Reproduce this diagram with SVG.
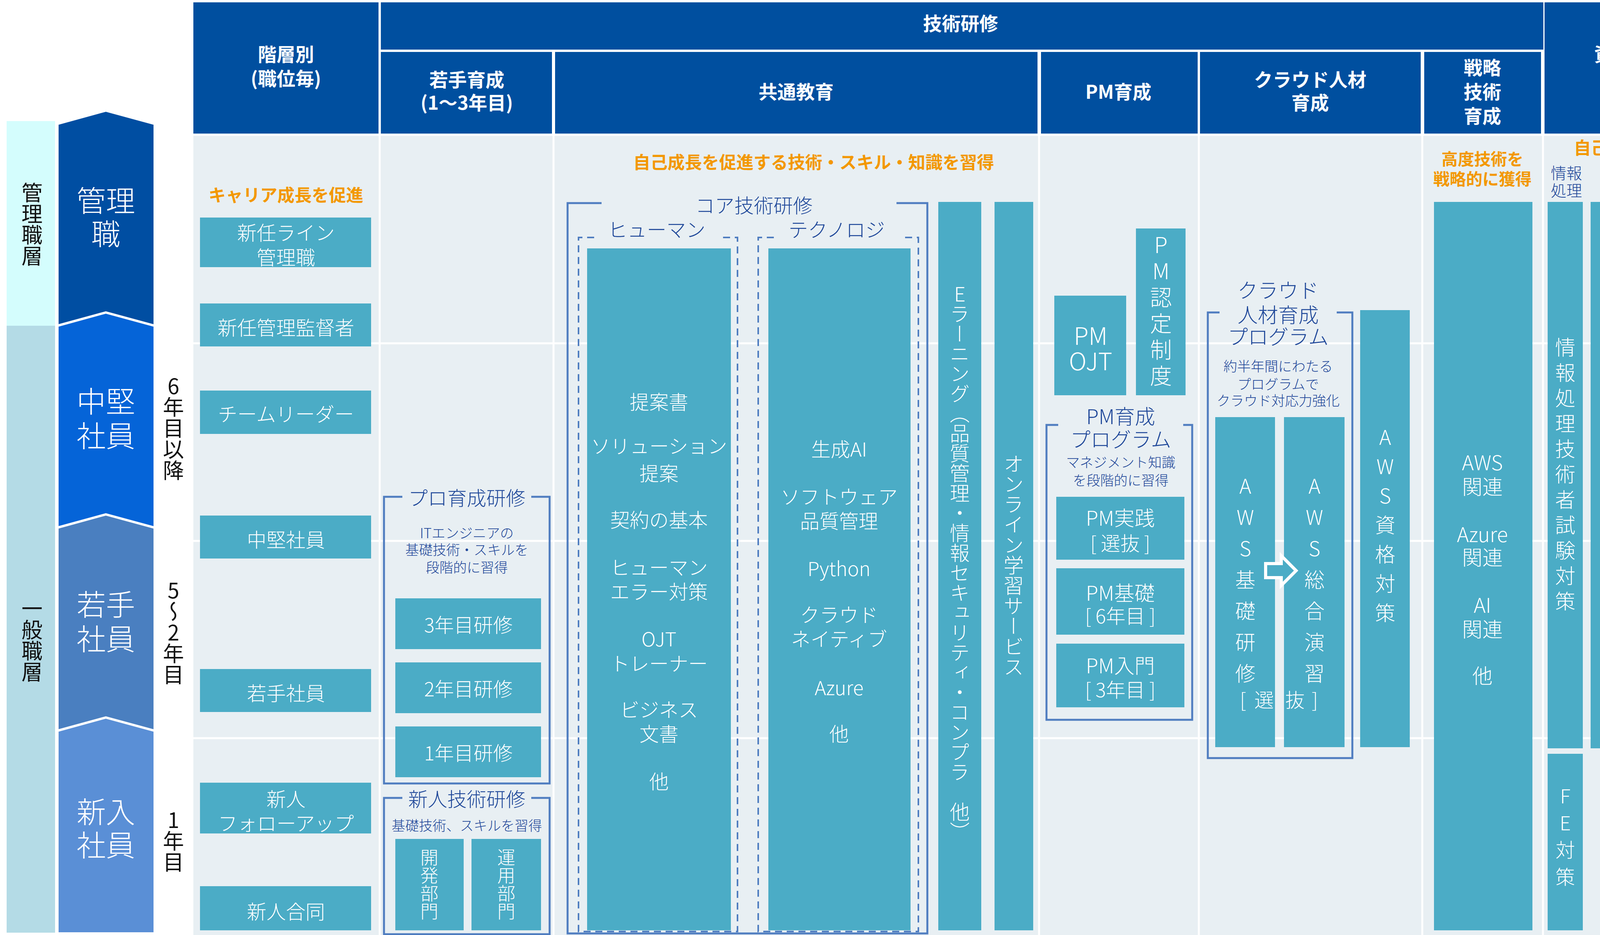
<svg xmlns="http://www.w3.org/2000/svg" width="4409" height="2394" viewBox="0 0 4409 2394">
<style>
text{font-family:"Noto Sans CJK JP","Noto Sans",sans-serif;dominant-baseline:central;text-anchor:middle}
.hd{fill:#fff;font-weight:700;font-size:48px}
.hdb{fill:#004f9f}
.tl{fill:#4bacc6}
.w{fill:#fff;font-size:50px;font-weight:300}
.or{fill:#f39800;font-weight:700;font-size:44px}
.db{fill:#1e4799;font-size:50px;font-weight:300}
.sm{fill:#1e4799;font-size:35px;font-weight:300}
.big{fill:#fff;font-size:75px;font-weight:300}
.v{writing-mode:vertical-rl;text-orientation:upright}
.br{fill:none;stroke:#4f7dc0;stroke-width:5}
.dash{fill:none;stroke:#4f7dc0;stroke-width:4;stroke-dasharray:18 12}
.sep{stroke:#fff;stroke-width:5}
</style>
<rect width="4409" height="2394" fill="#fff"/>
<!-- left bands -->
<g id="bands">
<rect x="17" y="310" width="124" height="524" fill="#d4fdfd"/>
<rect x="17" y="834" width="124" height="1554" fill="#b4dbe6"/>
<text x="82" y="574" class="v" style="font-size:54px;fill:#111">管理職層</text>
<text x="82" y="1639" class="v" style="font-size:54px;fill:#111">一般職層</text>
</g>
<g id="arrows" stroke="#fff" stroke-width="6">
<polygon points="147,317 271,283 396,317 396,840 147,840" fill="#004ea2"/>
<polygon points="147,834 271,800 396,834 396,1357 147,1357" fill="#0564d8"/>
<polygon points="147,1351 271,1317 396,1351 396,1875 147,1875" fill="#4a7fc0"/>
<polygon points="147,1871 271,1837 396,1871 396,2390 147,2390" fill="#5a8fd6"/>
</g>
<g id="arrowlabels">
<text x="271" y="509" class="big">管理</text><text x="271" y="594" class="big">職</text>
<text x="271" y="1023" class="big">中堅</text><text x="271" y="1111" class="big">社員</text>
<text x="271" y="1543" class="big">若手</text><text x="271" y="1631" class="big">社員</text>
<text x="271" y="2074" class="big">新入</text><text x="271" y="2159" class="big">社員</text>
<text x="444" y="1096" class="v" style="font-size:54px;fill:#111">6年目以降</text>
<text x="444" y="1619" class="v" style="font-size:54px;fill:#111">5〜2年目</text>
<text x="444" y="2153" class="v" style="font-size:54px;fill:#111">1年目</text>
</g>
<!-- body background -->
<g id="body">
<rect x="495" y="348" width="3905" height="2046" fill="#e8eff3"/>
<line x1="495" y1="879" x2="4400" y2="879" class="sep"/>
<line x1="495" y1="1385" x2="4400" y2="1385" class="sep"/>
<line x1="495" y1="1890" x2="4400" y2="1890" class="sep"/>
<line x1="972" y1="348" x2="972" y2="2394" class="sep"/>
<line x1="1417" y1="348" x2="1417" y2="2394" class="sep"/>
<line x1="2660" y1="348" x2="2660" y2="2394" class="sep"/>
<line x1="3069" y1="348" x2="3069" y2="2394" class="sep"/>
<line x1="3641" y1="348" x2="3641" y2="2394" class="sep"/>
<line x1="3950" y1="348" x2="3950" y2="2394" class="sep"/>
</g>
<!-- header -->
<g id="header">
<rect x="495" y="6" width="474" height="336" class="hdb"/>
<rect x="975" y="6" width="2976" height="121" class="hdb"/>
<rect x="975" y="133" width="438" height="209" class="hdb"/>
<rect x="1421" y="133" width="1235" height="209" class="hdb"/>
<rect x="2665" y="133" width="401" height="209" class="hdb"/>
<rect x="3072" y="133" width="565" height="209" class="hdb"/>
<rect x="3646" y="133" width="299" height="209" class="hdb"/>
<rect x="3954" y="6" width="446" height="336" class="hdb"/>
<text x="2459" y="57" class="hd">技術研修</text>
<text x="732" y="136" class="hd">階層別</text><text x="732" y="198" class="hd">(職位毎)</text>
<text x="1195" y="201" class="hd">若手育成</text><text x="1195" y="260" class="hd">(1〜3年目)</text>
<text x="2038" y="232" class="hd">共通教育</text>
<text x="2863" y="232" class="hd">PM育成</text>
<text x="3354" y="201" class="hd">クラウド人材</text><text x="3354" y="260" class="hd">育成</text>
<text x="3795" y="170" class="hd">戦略</text><text x="3795" y="232" class="hd">技術</text><text x="3795" y="294" class="hd">育成</text>
<text x="4177" y="136" class="hd">資格取得</text><text x="4177" y="198" class="hd">支援</text>
</g>
<!-- 階層別 -->
<g id="kaisou">
<text x="732" y="497" class="or">キャリア成長を促進</text>
<rect x="512" y="557" width="438" height="127" class="tl"/>
<text x="732" y="593" class="w">新任ライン</text><text x="732" y="656" class="w">管理職</text>
<rect x="512" y="777" width="438" height="110" class="tl"/><text x="732" y="836" class="w">新任管理監督者</text>
<rect x="512" y="1000" width="438" height="111" class="tl"/><text x="732" y="1057" class="w">チームリーダー</text>
<rect x="512" y="1320" width="438" height="110" class="tl"/><text x="732" y="1379" class="w">中堅社員</text>
<rect x="512" y="1713" width="438" height="110" class="tl"/><text x="732" y="1772" class="w">若手社員</text>
<rect x="512" y="2004" width="438" height="130" class="tl"/>
<text x="732" y="2043" class="w">新人</text><text x="732" y="2105" class="w">フォローアップ</text>
<rect x="512" y="2269" width="438" height="113" class="tl"/><text x="732" y="2331" class="w">新人合同</text>
</g>
<!-- 若手育成 -->
<g id="wakate">
<path d="M1030,1272 H983 V2006 H1407 V1272 H1360" class="br"/>
<text x="1195" y="1272" class="db">プロ育成研修</text>
<text x="1195" y="1362" class="sm">ITエンジニアの</text>
<text x="1195" y="1405" class="sm">基礎技術・スキルを</text>
<text x="1195" y="1450" class="sm">段階的に習得</text>
<rect x="1012" y="1532" width="373" height="130" class="tl"/><text x="1199" y="1597" class="w">3年目研修</text>
<rect x="1012" y="1696" width="373" height="130" class="tl"/><text x="1199" y="1761" class="w">2年目研修</text>
<rect x="1012" y="1860" width="373" height="130" class="tl"/><text x="1199" y="1925" class="w">1年目研修</text>
<path d="M1030,2043 H983 V2392 H1407 V2043 H1360" class="br"/>
<text x="1195" y="2043" class="db">新人技術研修</text>
<text x="1195" y="2111" class="sm">基礎技術、スキルを習得</text>
<rect x="1012" y="2148" width="175" height="234" class="tl"/>
<rect x="1207" y="2148" width="178" height="234" class="tl"/>
<text x="1099" y="2264" class="v w" style="font-size:46px">開発部門</text>
<text x="1296" y="2264" class="v w" style="font-size:46px">運用部門</text>
</g>
<!-- 共通教育 -->
<g id="kyoutsu">
<text x="2083" y="413" class="or">自己成長を促進する技術・スキル・知識を習得</text>
<path d="M1540,520 H1453 V2390 H2374 V520 H2295" class="br"/>
<text x="1930" y="523" class="db">コア技術研修</text>
<path d="M1521,608 H1481 V2385 H1888 V608 H1846" class="dash"/>
<text x="1681" y="585" class="db">ヒューマン</text>
<path d="M1981,608 H1941 V2385 H2351 V608 H2306" class="dash"/>
<text x="2142" y="585" class="db">テクノロジ</text>
<rect x="1503" y="636" width="368" height="1746" class="tl"/>
<rect x="1967" y="636" width="364" height="1746" class="tl"/>
<text x="1687" y="1026" class="w">提案書</text>
<text x="1687" y="1139" class="w">ソリューション</text><text x="1687" y="1209" class="w">提案</text>
<text x="1687" y="1328" class="w">契約の基本</text>
<text x="1687" y="1450" class="w">ヒューマン</text><text x="1687" y="1512" class="w">エラー対策</text>
<text x="1687" y="1633" class="w">OJT</text><text x="1687" y="1696" class="w">トレーナー</text>
<text x="1687" y="1814" class="w">ビジネス</text><text x="1687" y="1876" class="w">文書</text>
<text x="1687" y="1998" class="w">他</text>
<text x="2148" y="1147" class="w">生成AI</text>
<text x="2148" y="1269" class="w">ソフトウェア</text><text x="2148" y="1331" class="w">品質管理</text>
<text x="2148" y="1453" class="w">Python</text>
<text x="2148" y="1571" class="w">クラウド</text><text x="2148" y="1633" class="w">ネイティブ</text>
<text x="2148" y="1758" class="w">Azure</text>
<text x="2148" y="1876" class="w">他</text>
<rect x="2402" y="517" width="110" height="1865" class="tl"/>
<rect x="2546" y="517" width="99" height="1865" class="tl"/>
<text x="2457" y="1441" class="v w" style="font-size:51px">Eラーニング（品質管理・情報セキュリティ・コンプラ 他）</text>
<text x="2595" y="1447" class="v w" style="font-size:52px">オンライン学習サービス</text>
</g>
<!-- PM育成 -->
<g id="pm">
<rect x="2699" y="757" width="184" height="255" class="tl"/>
<text x="2792" y="856" class="w" style="font-size:62px">PM</text><text x="2792" y="921" class="w" style="font-size:62px">OJT</text>
<rect x="2908" y="585" width="127" height="427" class="tl"/>
<text x="2972" y="800" class="v w" style="font-size:56px;letter-spacing:11px">PM認定制度</text>
<path d="M2709,1088 H2679 V1843 H3052 V1088 H3029" class="br"/>
<text x="2869" y="1063" class="db" style="font-size:52px">PM育成</text>
<text x="2869" y="1122" class="db" style="font-size:52px">プログラム</text>
<text x="2869" y="1181" class="sm">マネジメント知識</text>
<text x="2869" y="1227" class="sm">を段階的に習得</text>
<rect x="2704" y="1272" width="328" height="161" class="tl"/>
<text x="2868" y="1323" class="w" style="font-size:52px">PM実践</text><text x="2868" y="1388" class="w">[ 選抜 ]</text>
<rect x="2704" y="1455" width="328" height="170" class="tl"/>
<text x="2868" y="1515" class="w" style="font-size:52px">PM基礎</text><text x="2868" y="1574" class="w">[ 6年目 ]</text>
<rect x="2704" y="1648" width="328" height="163" class="tl"/>
<text x="2868" y="1701" class="w" style="font-size:52px">PM入門</text><text x="2868" y="1763" class="w">[ 3年目 ]</text>
</g>
<!-- クラウド -->
<g id="cloud">
<path d="M3122,800 H3092 V1941 H3462 V800 H3422" class="br"/>
<text x="3272" y="740" class="db" style="font-size:52px">クラウド</text>
<text x="3272" y="803" class="db" style="font-size:52px">人材育成</text>
<text x="3272" y="859" class="db" style="font-size:52px">プログラム</text>
<text x="3272" y="935" class="sm">約半年間にわたる</text>
<text x="3272" y="981" class="sm">プログラムで</text>
<text x="3272" y="1023" class="sm">クラウド対応力強化</text>
<rect x="3111" y="1068" width="153" height="845" class="tl"/>
<rect x="3287" y="1068" width="155" height="845" class="tl"/>
<text x="3188" y="1498" class="v w" style="font-size:52px;letter-spacing:28px">AWS基礎研修</text>
<text x="3365" y="1498" class="v w" style="font-size:52px;letter-spacing:28px">AWS総合演習</text>
<polygon points="3240,1443 3280,1443 3280,1423 3318,1461 3280,1499 3280,1479 3240,1479" fill="#4bacc6" stroke="#fff" stroke-width="8"/>
<text x="3182" y="1789" class="w">[</text><text x="3236" y="1789" class="w">選</text>
<text x="3315" y="1789" class="w">抜</text><text x="3366" y="1789" class="w">]</text>
<rect x="3482" y="794" width="127" height="1119" class="tl"/>
<text x="3546" y="1356" class="v w" style="font-size:52px;letter-spacing:23px">AWS資格対策</text>
</g>
<!-- 戦略技術 -->
<g id="senryaku">
<text x="3795" y="404" class="or" style="font-size:42px">高度技術を</text>
<text x="3795" y="455" class="or" style="font-size:42px">戦略的に獲得</text>
<rect x="3671" y="517" width="252" height="1865" class="tl"/>
<text x="3795" y="1181" class="w" style="font-size:52px">AWS</text><text x="3795" y="1243" class="w" style="font-size:52px">関連</text>
<text x="3795" y="1365" class="w" style="font-size:52px">Azure</text><text x="3795" y="1424" class="w" style="font-size:52px">関連</text>
<text x="3795" y="1546" class="w" style="font-size:52px">AI</text><text x="3795" y="1608" class="w" style="font-size:52px">関連</text>
<text x="3795" y="1727" class="w" style="font-size:52px">他</text>
</g>
<!-- 資格取得 -->
<g id="shikaku">
<text x="4183" y="376" class="or">自己啓発を促進</text>
<text x="4010" y="441" class="db" style="font-size:40px">情報</text><text x="4010" y="486" class="db" style="font-size:40px">処理</text>
<text x="4171" y="480" class="db" style="font-size:40px">AWS</text>
<text x="4338" y="478" class="db" style="font-size:40px">制度</text>
<rect x="3962" y="517" width="90" height="1399" class="tl"/>
<rect x="3962" y="1930" width="90" height="452" class="tl"/>
<rect x="4072" y="517" width="204" height="1399" class="tl"/>
<rect x="4296" y="517" width="90" height="1865" class="tl"/>
<text x="4007" y="1221" class="v w" style="font-size:52px;letter-spacing:13px">情報処理技術者試験対策</text>
<text x="4007" y="2151" class="v w" style="font-size:50px;letter-spacing:19px">FE対策</text>
<text x="4174" y="989" class="w" style="font-size:56px">DVA</text>
<text x="4174" y="1122" class="w" style="font-size:56px">SAA</text>
<text x="4174" y="1255" class="w" style="font-size:56px">SAP</text>
<text x="4174" y="1388" class="w" style="font-size:56px">取得</text>
<text x="4174" y="1453" class="w" style="font-size:56px">支援</text>
<text x="4340" y="1441" class="v w" style="font-size:52px">資格取得祝い金制度（国家資格・ベンダー資格）</text>
</g>
</svg>
